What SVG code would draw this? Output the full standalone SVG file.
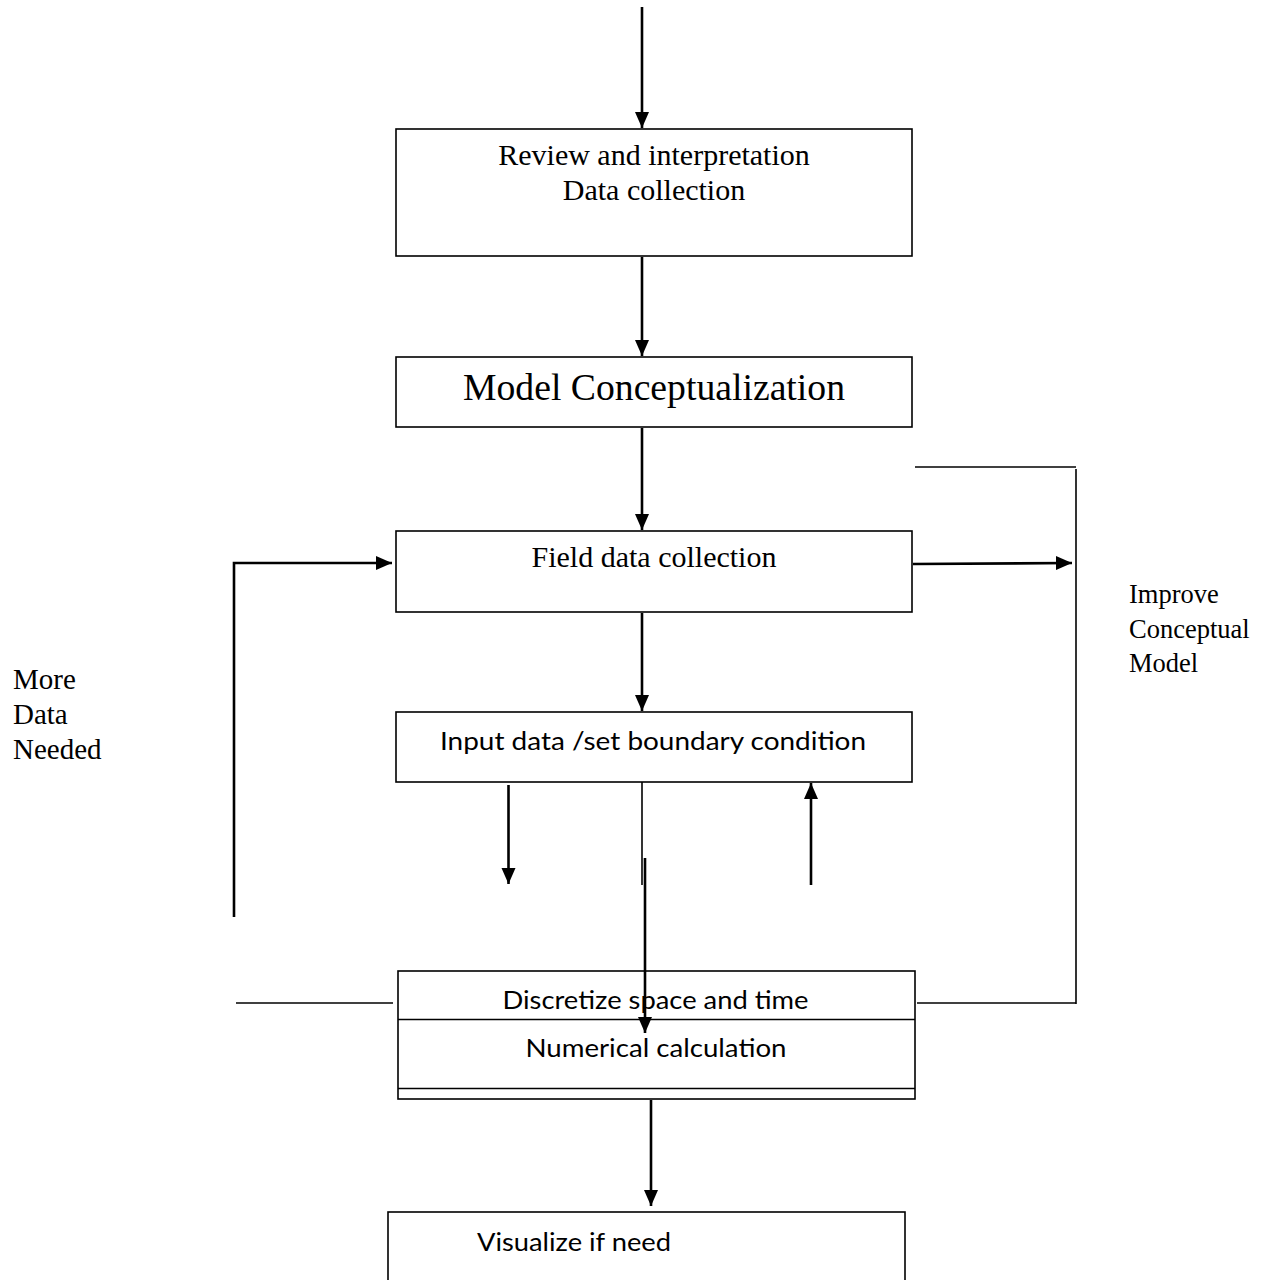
<svg xmlns="http://www.w3.org/2000/svg" width="1278" height="1280" viewBox="0 0 1278 1280">
<defs>
<style>
.box{fill:#fff;stroke:#000;stroke-width:1.6}
.ln{fill:none;stroke:#000;stroke-width:2.6}
.thin{fill:none;stroke:#000;stroke-width:1.6}
.serif{font-family:"Liberation Serif","Times New Roman",serif;font-size:30px;fill:#000}
.side{font-family:"Liberation Serif","Times New Roman",serif;font-size:26.5px;fill:#000}
.sans{font-family:Lato,"Open Sans","Liberation Sans",sans-serif;font-size:25px;fill:#000}
</style>
<marker id="ah" markerUnits="userSpaceOnUse" viewBox="0 0 16 16" markerWidth="16" markerHeight="16" refX="16" refY="8" orient="auto">
<path d="M0,1 L16,8 L0,15 z" fill="#000"/>
</marker>
</defs>
<rect width="1278" height="1280" fill="#fff"/>

<g id="review">
<rect class="box" x="396" y="129" width="516" height="127"/>
<text class="serif" x="654" y="165" text-anchor="middle">Review and interpretation</text>
<text class="serif" x="654" y="200" text-anchor="middle">Data collection</text>
</g>

<g id="model">
<rect class="box" x="396" y="357" width="516" height="70"/>
<text class="serif" x="654" y="400" text-anchor="middle" style="font-size:37.7px">Model Conceptualization</text>
</g>

<g id="field">
<rect class="box" x="396" y="531" width="516" height="81"/>
<text class="serif" x="654" y="567" text-anchor="middle">Field data collection</text>
</g>

<g id="input">
<rect class="box" x="396" y="712" width="516" height="70"/>
<text class="sans" x="653" y="750" text-anchor="middle" textLength="426" lengthAdjust="spacingAndGlyphs">Input data /set boundary condition</text>
</g>

<g id="discretize">
<rect class="box" x="398" y="971" width="517" height="128"/>
<line class="thin" x1="398" y1="1019.5" x2="915" y2="1019.5"/>
<line class="thin" x1="398" y1="1088.5" x2="915" y2="1088.5"/>
<text class="sans" x="655.5" y="1009" text-anchor="middle" textLength="306" lengthAdjust="spacingAndGlyphs">Discretize space and time</text>
<text class="sans" x="656" y="1057" text-anchor="middle" textLength="261" lengthAdjust="spacingAndGlyphs">Numerical calculation</text>
</g>

<g id="visualize">
<rect class="box" x="388" y="1212" width="517" height="90"/>
<text class="sans" x="477" y="1251" textLength="194" lengthAdjust="spacingAndGlyphs">Visualize if need</text>
</g>

<g id="label-more">
<text class="serif" x="13" y="689" style="font-size:29px">More</text>
<text class="serif" x="13" y="724" style="font-size:29px">Data</text>
<text class="serif" x="13" y="759" style="font-size:29px">Needed</text>
</g>

<g id="label-improve">
<text class="side" x="1129" y="603">Improve</text>
<text class="side" x="1129" y="638">Conceptual</text>
<text class="side" x="1129" y="672">Model</text>
</g>

<g id="connectors">
<line class="ln" x1="642" y1="7" x2="642" y2="128" marker-end="url(#ah)"/>
<line class="ln" x1="642" y1="257" x2="642" y2="356" marker-end="url(#ah)"/>
<line class="ln" x1="642" y1="428" x2="642" y2="530" marker-end="url(#ah)"/>
<line class="ln" x1="642" y1="613" x2="642" y2="711" marker-end="url(#ah)"/>
<line class="ln" x1="508.5" y1="785" x2="508.5" y2="884" marker-end="url(#ah)"/>
<line class="thin" x1="642" y1="782" x2="642" y2="885"/>
<line class="ln" x1="645" y1="858" x2="645" y2="1033" marker-end="url(#ah)"/>
<line class="ln" x1="811" y1="885" x2="811" y2="783" marker-end="url(#ah)"/>
<line class="ln" x1="651" y1="1100" x2="651" y2="1206" marker-end="url(#ah)"/>
<polyline class="ln" points="234,917 234,563 392,563" marker-end="url(#ah)"/>
<line class="thin" x1="236" y1="1003" x2="393" y2="1003"/>
<line class="ln" x1="913" y1="564" x2="1072" y2="563" marker-end="url(#ah)"/>
<line class="thin" x1="915" y1="467" x2="1076" y2="467"/>
<line class="thin" x1="1076" y1="469" x2="1076" y2="1004"/>
<line class="thin" x1="917" y1="1003" x2="1076" y2="1003"/>
</g>
</svg>
